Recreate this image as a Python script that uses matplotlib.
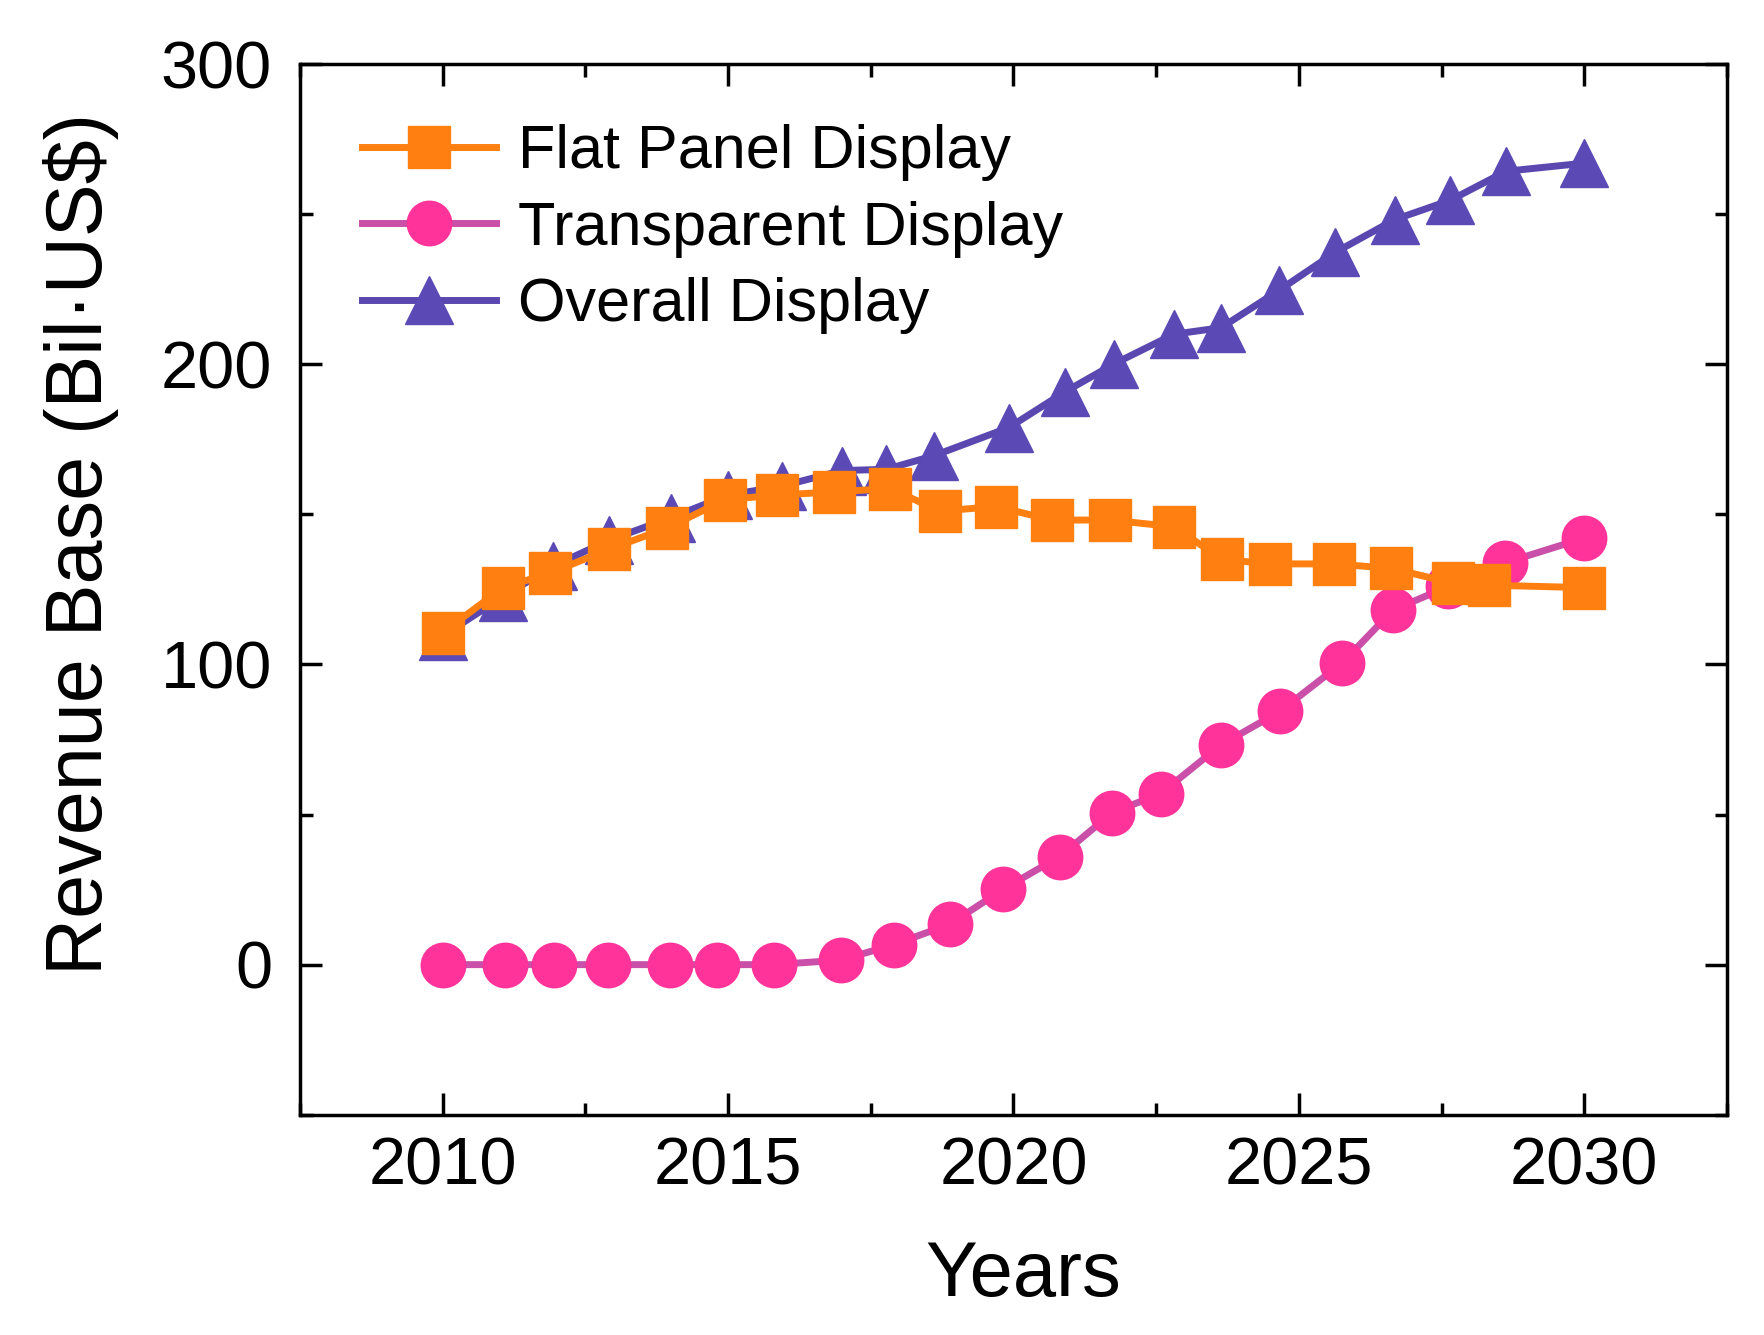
import numpy as np
import matplotlib.pyplot as plt
from matplotlib.ticker import MultipleLocator

plt.rcParams['font.family'] = ['Liberation Sans', 'DejaVu Sans']

flat_x = [2010.0, 2011.06, 2011.89, 2012.92, 2013.94, 2014.95, 2015.85, 2016.86,
          2017.84, 2018.71, 2019.70, 2020.68, 2021.69, 2022.81, 2023.66, 2024.49,
          2025.62, 2026.62, 2027.70, 2028.33, 2030.0]
flat_y = [110.6, 125.6, 130.5, 138.4, 145.5, 154.9, 156.4, 157.5,
          158.6, 151.1, 152.6, 148.1, 148.1, 145.9, 135.0, 133.5,
          133.5, 132.0, 127.1, 126.4, 125.6]

trans_x = [2010.0, 2011.10, 2011.95, 2012.90, 2013.98, 2014.81, 2015.80, 2016.98,
           2017.91, 2018.89, 2019.82, 2020.81, 2021.73, 2022.58, 2023.63, 2024.67,
           2025.76, 2026.65, 2027.62, 2028.62, 2030.0]
trans_y = [0.0, 0.0, 0.0, 0.0, 0.0, 0.0, 0.0, 1.5,
           6.7, 13.5, 25.1, 36.0, 50.6, 57.0, 73.1, 84.4,
           100.5, 118.1, 126.0, 133.9, 142.1]

overall_x = [2010.0, 2011.06, 2011.93, 2012.92, 2014.0, 2015.0, 2015.94, 2017.0,
             2017.77, 2018.60, 2019.92, 2020.91, 2021.77, 2022.81, 2023.64, 2024.65,
             2025.64, 2026.68, 2027.65, 2028.63, 2030.0]
overall_y = [109.5, 122.6, 132.7, 141.4, 148.9, 156.4, 159.4, 164.6,
             165.0, 169.5, 178.9, 190.9, 200.2, 210.0, 212.2, 224.6,
             237.3, 248.2, 254.6, 264.3, 267.0]

fig = plt.figure(figsize=(17.64, 13.35), dpi=100)
ax = fig.add_axes([0.170, 0.165, 0.809, 0.787])

# pink at the bottom, orange on top
l_tr, = ax.plot(trans_x, trans_y, color='#c94fa8', lw=5, marker='o', ms=32,
                mfc='#ff3399', mec='#ff3399', label='Transparent Display', zorder=2)
l_ov, = ax.plot(overall_x, overall_y, color='#5a48b0', lw=5, marker='^', ms=34,
                mfc='#5b4ab5', mec='#5b4ab5', label='Overall Display', zorder=3)
l_fl, = ax.plot(flat_x, flat_y, color='#ff8010', lw=5, marker='s', ms=30,
                mfc='#ff8010', mec='#ff8010', label='Flat Panel Display', zorder=4)

ax.set_xlim(2007.5, 2032.5)
ax.set_ylim(-50, 300)
ax.xaxis.set_major_locator(MultipleLocator(5))
ax.xaxis.set_minor_locator(MultipleLocator(2.5))
ax.yaxis.set_major_locator(MultipleLocator(100))
ax.yaxis.set_minor_locator(MultipleLocator(50))
ax.tick_params(which='both', direction='in', top=True, right=True, width=2.5)
ax.tick_params(which='major', length=16, labelsize=48)
ax.tick_params(axis='x', which='major', pad=16)
ax.tick_params(axis='y', which='major', pad=20)
ax.tick_params(which='minor', length=9)
for s in ax.spines.values():
    s.set_linewidth(2.5)

ax.set_xlabel('Years', fontsize=56)
ax.set_ylabel('Revenue Base (Bil·US$)', fontsize=57)
ax.xaxis.set_label_coords(0.507, -0.118)
ax.yaxis.set_label_coords(-0.127, 0.543)

ax.legend(handles=[l_fl, l_tr, l_ov], loc='upper left', bbox_to_anchor=(0.005, 0.995),
          frameon=False, fontsize=44, handlelength=2.19, handletextpad=0.37,
          labelspacing=0.32, markerscale=1.0)

plt.savefig('out.png', dpi=100)
